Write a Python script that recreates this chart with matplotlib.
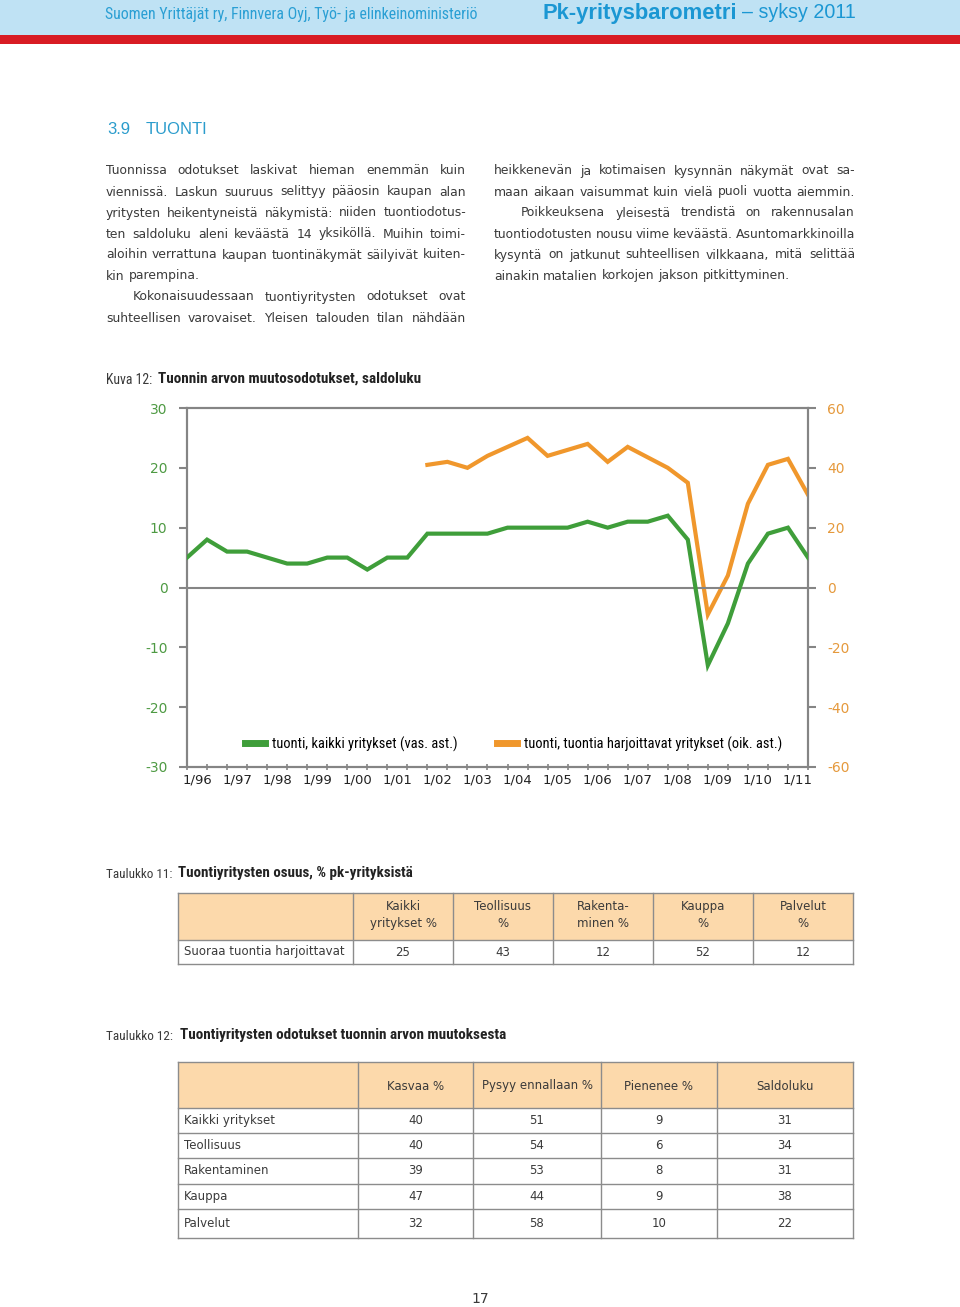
import numpy as np
import matplotlib
matplotlib.use("Agg")
import matplotlib.pyplot as plt
from matplotlib import font_manager
from matplotlib.patches import Rectangle
from matplotlib.lines import Line2D

installed = {f.name for f in font_manager.fontManager.ttflist}


def pick(*names):
    for n in names:
        if n in installed:
            return n
    return 'DejaVu Sans'


NARROW = pick('Roboto Condensed', 'Liberation Sans Narrow', 'Open Sans Condensed', 'Roboto')
BODY = pick('DejaVu Sans')
HEAD = pick('Liberation Sans')

# --- chart data (half-year observations 1/96 .. 2/11) ---
year_labels = ['1/96', '1/97', '1/98', '1/99', '1/00', '1/01', '1/02', '1/03',
               '1/04', '1/05', '1/06', '1/07', '1/08', '1/09', '1/10', '1/11']
all_firms = [5, 8, 6, 6, 5, 4, 4, 5, 5, 3, 5, 5, 9, 9, 9, 9,
             10, 10, 10, 10, 11, 10, 11, 11, 12, 8, -13, -6, 4, 9, 10, 5]
importers = [np.nan] * 12 + [41, 42, 40, 44, 47, 50, 44, 46, 48, 42, 47, 43.5,
                             40, 35, -9, 4, 28, 41, 43, 31]
left_ticks = [30, 20, 10, 0, -10, -20, -30]
right_ticks = [60, 40, 20, 0, -20, -40, -60]

# --- table 11 ---
t11_cols = ['Kaikki\nyritykset %', 'Teollisuus\n%', 'Rakenta-\nminen %', 'Kauppa\n%', 'Palvelut\n%']
t11_row = 'Suoraa tuontia harjoittavat'
t11_vals = [25, 43, 12, 52, 12]

# --- table 12 ---
t12_cols = ['Kasvaa %', 'Pysyy ennallaan %', 'Pienenee %', 'Saldoluku']
t12_rows = ['Kaikki yritykset', 'Teollisuus', 'Rakentaminen', 'Kauppa', 'Palvelut']
kasvaa = [40, 40, 39, 47, 32]
pysyy = [51, 54, 53, 44, 58]
pienenee = [9, 6, 8, 9, 10]
saldo = [31, 34, 31, 38, 22]

left_col = [
    ("Tuonnissa odotukset laskivat hieman enemmän kuin", 0, True),
    ("viennissä. Laskun suuruus selittyy pääosin kaupan alan", 0, True),
    ("yritysten heikentyneistä näkymistä: niiden tuontiodotus-", 0, True),
    ("ten saldoluku aleni keväästä 14 yksiköllä. Muihin toimi-", 0, True),
    ("aloihin verrattuna kaupan tuontinäkymät säilyivät kuiten-", 0, True),
    ("kin parempina.", 0, False),
    ("Kokonaisuudessaan tuontiyritysten odotukset ovat", 27, True),
    ("suhteellisen varovaiset. Yleisen talouden tilan nähdään", 0, True),
]
right_col = [
    ("heikkenevän ja kotimaisen kysynnän näkymät ovat sa-", 0, True),
    ("maan aikaan vaisummat kuin vielä puoli vuotta aiemmin.", 0, True),
    ("Poikkeuksena yleisestä trendistä on rakennusalan", 27, True),
    ("tuontiodotusten nousu viime keväästä. Asuntomarkkinoilla", 0, True),
    ("kysyntä on jatkunut suhteellisen vilkkaana, mitä selittää", 0, True),
    ("ainakin matalien korkojen jakson pitkittyminen.", 0, False),
]

GREEN = '#3f9e3a'
ORANGE = '#f0972c'
GREEN_TXT = '#4e9a43'
ORANGE_TXT = '#e5993c'
GRAY = '#858585'
TXT = '#3a3a3a'
BLUE = '#2a9fd4'

W, H = 960, 1307
fig = plt.figure(figsize=(W / 100, H / 100), dpi=100)
page = fig.add_axes([0, 0, 1, 1])
page.set_xlim(0, W)
page.set_ylim(H, 0)
page.axis('off')
renderer = fig.canvas.get_renderer()


def text_width(s, **kw):
    t = page.text(0, 0, s, **kw)
    w = t.get_window_extent(renderer).width
    t.remove()
    return w


def fit(s, target, base=10, **kw):
    return base * target / text_width(s, fontsize=base, **kw)


# header band
page.add_patch(Rectangle((0, 0), W, 35, color='#bfe2f4', lw=0))
page.add_patch(Rectangle((0, 35), W, 9, color='#d81c24', lw=0))
s = 'Suomen Yrittäjät ry, Finnvera Oyj, Työ- ja elinkeinoministeriö'
page.text(105, 14, s, fontsize=fit(s, 373, family=NARROW),
          family=NARROW, color=BLUE, va='center')
fs = fit('Pk-yritysbarometri', 195, family=HEAD, weight='bold')
page.text(543, 13, 'Pk-yritysbarometri', fontsize=fs, family=HEAD,
          weight='bold', color='#1b97d3', va='center')
page.text(742, 13, '– syksy 2011', fontsize=min(fs, fit('– syksy 2011', 113, family=HEAD)),
          family=HEAD, color='#1b97d3', va='center')

page.text(107, 129, '3.9', fontsize=12, family=HEAD, color='#2b9ccc', va='center')
page.text(146, 129, 'TUONTI', fontsize=12, family=HEAD, color='#2b9ccc', va='center')

# body text, justified
base_fs = 10


def tight_width(s, ind, size):
    words = s.split()
    return sum(text_width(w, fontsize=size, family=BODY) for w in words) + \
        3.2 * (len(words) - 1) + ind


body_fs = min(10.5, min(base_fs * 360 / tight_width(s, ind, base_fs)
                        for s, ind, _ in left_col + right_col))


def draw_column(lines, x0, y0, width):
    space = text_width('a a', fontsize=body_fs, family=BODY) - \
        2 * text_width('a', fontsize=body_fs, family=BODY)
    for i, (s, indent, justify) in enumerate(lines):
        y = y0 + i * 21
        words = s.split()
        widths = [text_width(w, fontsize=body_fs, family=BODY) for w in words]
        avail = width - indent
        gap = space
        if justify and len(words) > 1:
            gap = (avail - sum(widths)) / (len(words) - 1)
        xx = x0 + indent
        for w, wd in zip(words, widths):
            page.text(xx, y, w, fontsize=body_fs, family=BODY, color=TXT, va='center')
            xx += wd + gap


draw_column(left_col, 106, 171, 360)
draw_column(right_col, 494, 171, 361)


def caption(label, title, y, label_w, title_x, title_w):
    page.text(106, y + 1, label, fontsize=fit(label, label_w, family=NARROW),
              family=NARROW, color=TXT, va='center')
    page.text(title_x, y, title, fontsize=fit(title, title_w, family=NARROW, weight='bold'),
              family=NARROW, weight='bold', color='#222222', va='center')


caption('Kuva 12:', 'Tuonnin arvon muutosodotukset, saldoluku', 379, 46, 158, 265)

# --- chart ---
x = np.arange(len(all_firms))
ax = fig.add_axes([187 / W, 1 - 767 / H, (808 - 187) / W, (767 - 408) / H])
ax2 = ax.twinx()
ax.set_zorder(ax2.get_zorder() + 1)
ax.patch.set_visible(False)

ax.axhline(0, color=GRAY, lw=1.5, zorder=1)
ax.plot(x, all_firms, color=GREEN, lw=3, solid_joinstyle='miter', zorder=3)
ax2.plot(x, importers, color=ORANGE, lw=3, solid_joinstyle='miter', zorder=2)

ax.set_xlim(0, len(all_firms) - 1)
ax.set_ylim(-30, 30)
ax2.set_ylim(-60, 60)

for a in (ax, ax2):
    for sp in a.spines.values():
        sp.set_color(GRAY)
        sp.set_linewidth(1.5)

ax.set_yticks(left_ticks)
ax.set_yticklabels([str(v) for v in left_ticks], color=GREEN_TXT,
                   fontsize=10, family=BODY)
ax2.set_yticks(right_ticks)
ax2.set_yticklabels([str(v) for v in right_ticks], color=ORANGE_TXT,
                    fontsize=10, family=BODY)
ax.tick_params(axis='y', length=6, width=1.5, color=GRAY, pad=8)
ax2.tick_params(axis='y', length=6, width=1.5, color=GRAY, pad=8)

ax.set_xticks(x)
ax.set_xticklabels([])
ax.tick_params(axis='x', which='major', length=4, width=1.2, color=GRAY, direction='inout')
ax.set_xticks(np.arange(len(year_labels)) * 2 + 0.5, minor=True)
ax.set_xticklabels(year_labels, minor=True, fontsize=9.5, family=BODY, color='#222222')
ax.tick_params(axis='x', which='minor', length=0, pad=5)

leg_labels = ['tuonti, kaikki yritykset (vas. ast.)',
              'tuonti, tuontia harjoittavat yritykset (oik. ast.)']
leg_fs = fit(leg_labels[1], 256, family=NARROW)
leg_px = leg_fs * 100 / 72
gap1 = 497 - (272 + text_width(leg_labels[0], fontsize=leg_fs, family=NARROW))
handles = [Line2D([], [], color=GREEN, lw=5),
           Line2D([], [], color=ORANGE, lw=5)]
ax.legend(handles, leg_labels, ncol=2, loc='center left',
          bbox_to_anchor=((245 - 187) / 621, (767 - 744) / 359),
          frameon=False, borderpad=0, borderaxespad=0,
          handlelength=20 / leg_px, handletextpad=7 / leg_px,
          columnspacing=gap1 / leg_px,
          prop={'family': NARROW, 'size': leg_fs})

# --- tables ---
LINE = '#8c8c8c'
PEACH = '#fcd9ab'
TFS = fit(t11_row, 160, family=BODY)


def table_frame(xs, ys):
    page.add_patch(Rectangle((xs[0], ys[0]), xs[-1] - xs[0], ys[1] - ys[0],
                             color=PEACH, lw=0))
    for yy in ys:
        page.plot([xs[0], xs[-1]], [yy, yy], color=LINE, lw=1)
    for xx in xs:
        page.plot([xx, xx], [ys[0], ys[-1]], color=LINE, lw=1)


caption('Taulukko 11:', 'Tuontiyritysten osuus, % pk-yrityksistä', 873, 66, 178, 235)
xs11 = [178, 353, 453, 553, 653, 753, 853]
ys11 = [893, 940, 964]
table_frame(xs11, ys11)
for j, lab in enumerate(t11_cols):
    cx = (xs11[j + 1] + xs11[j + 2]) / 2
    page.text(cx, 915, lab, fontsize=TFS, family=BODY, color=TXT, ha='center',
              va='center', linespacing=1.35)
    page.text(cx, 952, str(t11_vals[j]), fontsize=TFS, family=BODY, color=TXT,
              ha='center', va='center')
page.text(184, 952, t11_row, fontsize=TFS, family=BODY, color=TXT, va='center')

caption('Taulukko 12:', 'Tuontiyritysten odotukset tuonnin arvon muutoksesta', 1035, 67, 180, 327)
xs12 = [178, 358, 473, 601, 717, 853]
ys12 = [1062, 1108, 1133, 1158, 1184, 1209, 1238]
table_frame(xs12, ys12)
for j, lab in enumerate(t12_cols):
    cx = (xs12[j + 1] + xs12[j + 2]) / 2
    page.text(cx, 1086, lab, fontsize=TFS, family=BODY, color=TXT, ha='center', va='center')
for i, name in enumerate(t12_rows):
    cy = (ys12[i + 1] + ys12[i + 2]) / 2
    page.text(184, cy, name, fontsize=TFS, family=BODY, color=TXT, va='center')
    for j, col in enumerate([kasvaa, pysyy, pienenee, saldo]):
        cx = (xs12[j + 1] + xs12[j + 2]) / 2
        page.text(cx, cy, str(col[i]), fontsize=TFS, family=BODY, color=TXT,
                  ha='center', va='center')

page.text(480, 1299, '17', fontsize=10, family=BODY, color=TXT, ha='center', va='center')

fig.savefig('out.png', dpi=100)
